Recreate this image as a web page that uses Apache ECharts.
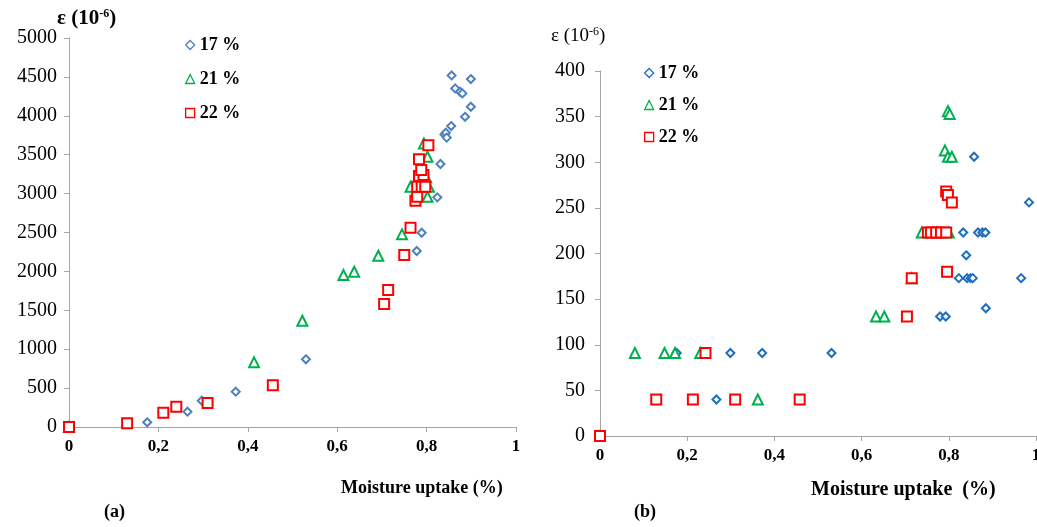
<!DOCTYPE html>
<html>
<head>
<meta charset="utf-8">
<script src="https://cdn.jsdelivr.net/npm/echarts@6/dist/echarts.min.js"></script>
<style>html,body{margin:0;padding:0;background:#fff}#c{width:1037px;height:527px}</style>
</head>
<body>
<div id="c"></div>
<script>
// ---- Chart (a) data ----
const a17x = [0, 0.175, 0.265, 0.297, 0.373, 0.53, 0.778, 0.789, 0.824, 0.831, 0.84, 0.843, 0.845, 0.855, 0.856, 0.864, 0.875, 0.88, 0.886, 0.899, 0.899];
const a17y = [0, 60, 197, 338, 454, 870, 2262, 2497, 2952, 3380, 3760, 3782, 3720, 3868, 4519, 4352, 4309, 4288, 3987, 4116, 4472];
const a21x = [0, 0.414, 0.522, 0.614, 0.638, 0.692, 0.745, 0.764, 0.785, 0.794, 0.799, 0.802, 0.802, 0.805];
const a21y = [0, 831, 1366, 1953, 1996, 2201, 2476, 3088, 3281, 3645, 3209, 3473, 2959, 3088];
const a22x = [0, 0.130, 0.211, 0.240, 0.310, 0.456, 0.705, 0.714, 0.750, 0.764, 0.775, 0.779, 0.779, 0.789, 0.797, 0.783, 0.793, 0.788, 0.783, 0.804];
const a22y = [0, 47, 184, 261, 308, 536, 1580, 1760, 2210, 2561, 2908, 2959, 3088, 3088, 3088, 3225, 3238, 3302, 3440, 3620];
// ---- Chart (b) data ----
const b17x = [0, 0.176, 0.299, 0.372, 0.531, 0.267, 0.78, 0.793, 0.885, 0.823, 0.842, 0.85, 0.855, 0.966, 0.84, 0.833, 0.867, 0.877, 0.884, 0.984, 0.858];
const b17y = [0, 91, 91, 91, 91, 40, 131, 131, 140, 173, 173, 173, 173, 173, 198, 223, 223, 223, 223, 256, 306];
const b21x = [0, 0.080, 0.148, 0.172, 0.230, 0.362, 0.633, 0.652, 0.715, 0.738, 0.773, 0.800, 0.791, 0.798, 0.807, 0.798, 0.802];
const b21y = [0, 91, 91, 91, 91, 40, 131, 131, 173, 223, 223, 223, 313, 306, 306, 356, 353];
const b22x = [0, 0.129, 0.213, 0.242, 0.310, 0.458, 0.704, 0.715, 0.752, 0.759, 0.771, 0.782, 0.794, 0.796, 0.794, 0.798, 0.807];
const b22y = [0, 40, 40, 91, 40, 40, 131, 173, 223, 223, 223, 223, 223, 180, 268, 264, 256];

const seriesNames = ['17 %', '21 %', '22 %'];
const xTicks = { min: 0, max: 1, interval: 0.2 };
const yTicksA = { min: 0, max: 5000, interval: 500 };
const yTicksB = { min: 0, max: 400, interval: 50 };

const zip = (xs, ys) => xs.map((x, i) => [x, ys[i]]);
const serif = 'Liberation Serif, Times New Roman, serif';
const axisGray = '#A6A6A6';

function xAxisCfg(gi) {
  return {
    type: 'value', gridIndex: gi, min: xTicks.min, max: xTicks.max, interval: xTicks.interval,
    splitLine: { show: false },
    axisLine: { lineStyle: { color: axisGray, width: 1 } },
    axisTick: { show: true, length: 5, lineStyle: { color: axisGray } },
    axisLabel: {
      margin: 11, color: '#000', fontFamily: serif, fontSize: 17, fontWeight: 'bold',
      formatter: v => (v === 0 ? '0' : v === 1 ? '1' : (+v).toFixed(1).replace('.', ','))
    }
  };
}
function yAxisCfg(gi, t, m) {
  return {
    type: 'value', gridIndex: gi, min: t.min, max: t.max, interval: t.interval,
    splitLine: { show: false },
    axisLine: { show: true, lineStyle: { color: axisGray, width: 1 } },
    axisTick: { show: true, length: 5, lineStyle: { color: axisGray } },
    axisLabel: { margin: m, color: '#000', fontFamily: serif, fontSize: 20, formatter: v => String(Math.round(v)) }
  };
}
function sc(name, gi, data, symbol, size, color, bw) {
  return {
    type: 'scatter', name, xAxisIndex: gi, yAxisIndex: gi, data, symbol, symbolSize: size,
    itemStyle: { color: '#fff', borderColor: color, borderWidth: bw, opacity: 1 },
    emphasis: { disabled: true }, animation: false
  };
}
const blueA = '#4F81BD', blueB = '#1F6FBF', green = '#00B050', red = '#FF0000';

function legendCfg(left, top, gap, blue, fs) {
  const icons = ['diamond', 'triangle', 'rect'];
  const cols = [blue, green, red];
  return {
    orient: 'vertical', left, top, itemGap: gap, itemWidth: 9, itemHeight: 9,
    selectedMode: false,
    textStyle: { fontFamily: serif, fontSize: fs, fontWeight: 'bold', color: '#000', lineHeight: 18 },
    data: seriesNames.map((n, i) => ({
      name: n, icon: icons[i],
      itemStyle: { color: '#fff', borderColor: cols[i], borderWidth: 1.3 }
    }))
  };
}

const chart = echarts.init(document.getElementById('c'), null, { renderer: 'canvas' });
chart.setOption({
  backgroundColor: '#fff',
  animation: false,
  grid: [
    { left: 69, width: 447, top: 38, bottom: 100, containLabel: false, outerBoundsMode: 'none' },
    { left: 600, width: 436, top: 71, bottom: 91, containLabel: false, outerBoundsMode: 'none' }
  ],
  xAxis: [xAxisCfg(0), xAxisCfg(1)],
  yAxis: [yAxisCfg(0, yTicksA, 12), yAxisCfg(1, yTicksB, 15)],
  legend: [legendCfg(180, 31, 16, blueA, 18), legendCfg(639, 59, 14, blueB, 18)],
  series: [
    sc(seriesNames[0], 0, zip(a17x, a17y), 'diamond', 8, blueA, 2),
    sc(seriesNames[1], 0, zip(a21x, a21y), 'triangle', 10, green, 2),
    sc(seriesNames[2], 0, zip(a22x, a22y), 'rect', 10, red, 2),
    sc(seriesNames[0], 1, zip(b17x, b17y), 'diamond', 8, blueB, 2),
    sc(seriesNames[1], 1, zip(b21x, b21y), 'triangle', 10, green, 2),
    sc(seriesNames[2], 1, zip(b22x, b22y), 'rect', 10, red, 2)
  ],
  graphic: [
    { type: 'text', left: 57, top: 8, style: { rich: { b: { fontFamily: serif, fontSize: 21, fontWeight: 'bold' }, s: { fontFamily: serif, fontSize: 12, fontWeight: 'bold', padding: [0, 0, 9, 0] } }, text: '{b|ε (10}{s|-6}{b|)}', fill: '#000' } },
    { type: 'text', left: 551, top: 26, style: { rich: { b: { fontFamily: serif, fontSize: 19 }, s: { fontFamily: serif, fontSize: 12, padding: [0, 0, 9, 0] } }, text: '{b|ε (10}{s|-6}{b|)}', fill: '#000' } },
    { type: 'text', left: 341, top: 479, style: { text: 'Moisture uptake (%)', fontFamily: serif, fontSize: 18, fontWeight: 'bold', fill: '#000' } },
    { type: 'text', left: 811, top: 480, style: { text: 'Moisture uptake  (%)', fontFamily: serif, fontSize: 20, fontWeight: 'bold', fill: '#000' } },
    { type: 'text', left: 104, top: 503, style: { text: '(a)', fontFamily: serif, fontSize: 18, fontWeight: 'bold', fill: '#000' } },
    { type: 'text', left: 634, top: 503, style: { text: '(b)', fontFamily: serif, fontSize: 18, fontWeight: 'bold', fill: '#000' } }
  ]
});
</script>
</body>
</html>
